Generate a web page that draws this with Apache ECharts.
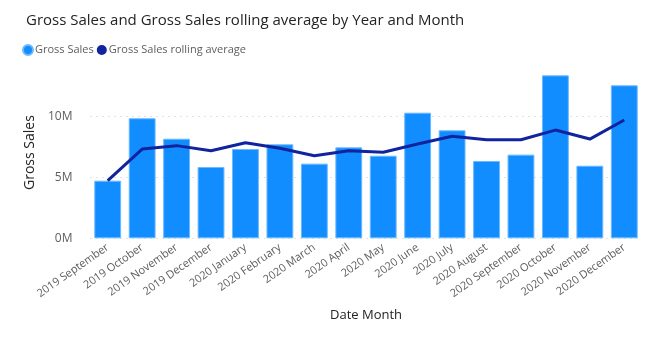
<!DOCTYPE html>
<html><head><meta charset="utf-8">
<script src="https://cdn.jsdelivr.net/npm/echarts@6/dist/echarts.min.js"></script>
<style>html,body{margin:0;padding:0;background:#fff}#c{width:663px;height:356px}</style>
</head><body><div id="c"></div>
<script>
const categories = ["2019 September","2019 October","2019 November","2019 December","2020 January","2020 February","2020 March","2020 April","2020 May","2020 June","2020 July","2020 August","2020 September","2020 October","2020 November","2020 December"];
const grossSales = [4.74, 9.87, 8.19, 5.86, 7.34, 7.73, 6.14, 7.48, 6.79, 10.33, 8.88, 6.36, 6.88, 13.40, 5.97, 12.58];
const rollingAverage = [4.74, 7.34, 7.62, 7.20, 7.86, 7.40, 6.79, 7.20, 7.07, 7.75, 8.39, 8.11, 8.11, 8.90, 8.16, 9.73];
const yTicks = [0, 5, 10];

const font = '"Open Sans", "DejaVu Sans", sans-serif';
const chart = echarts.init(document.getElementById('c'), null, {renderer: 'canvas'});
chart.setOption({
  animation: false,
  title: {
    text: 'Gross Sales and Gross Sales rolling average by Year and Month',
    left: 21, top: 8,
    textStyle: {fontFamily: font, fontSize: 15, fontWeight: 500, color: '#252423'}
  },
  legend: {
    left: 17, top: 39,
    icon: 'circle', itemWidth: 10, itemHeight: 10, itemGap: 3,
    textStyle: {fontFamily: font, fontSize: 11, color: '#605E5C', padding: [0,0,0,-3]},
    data: ['Gross Sales', 'Gross Sales rolling average']
  },
  grid: {left: 90.5, right: 21.5, top: 55.9, bottom: 117.7, containLabel: false},
  xAxis: {
    type: 'category', data: categories,
    name: 'Date Month', nameLocation: 'middle', nameGap: 70,
    nameTextStyle: {fontFamily: font, fontSize: 13, color: '#252423'},
    axisLine: {show: false}, axisTick: {show: false},
    axisLabel: {rotate: 35, interval: 0, fontFamily: font, fontSize: 11, color: '#605E5C', margin: 8}
  },
  yAxis: {
    type: 'value', min: 0, max: 15, interval: 5,
    name: 'Gross Sales', nameLocation: 'middle', nameGap: 52,
    nameTextStyle: {fontFamily: font, fontSize: 14, color: '#252423', padding: [0, 11, 0, 0]},
    axisLine: {show: false}, axisTick: {show: false},
    axisLabel: {showMaxLabel: false, fontFamily: font, fontSize: 12, color: '#605E5C', margin: 18,
      formatter: v => yTicks.includes(v) ? v + 'M' : ''},
    splitLine: {showMaxLine: false, lineStyle: {type: [1, 5], color: '#C8C6C4', width: 1}}
  },
  series: [
    {
      name: 'Gross Sales', type: 'bar', data: grossSales, barCategoryGap: '22%',
      itemStyle: {color: '#118DFF', borderColor: '#6DB9FF', borderWidth: 1}
    },
    {
      name: 'Gross Sales rolling average', type: 'line', data: rollingAverage,
      symbol: 'none', showSymbol: false,
      lineStyle: {color: '#12239E', width: 3}, itemStyle: {color: '#12239E'}
    }
  ]
});
</script></body></html>
